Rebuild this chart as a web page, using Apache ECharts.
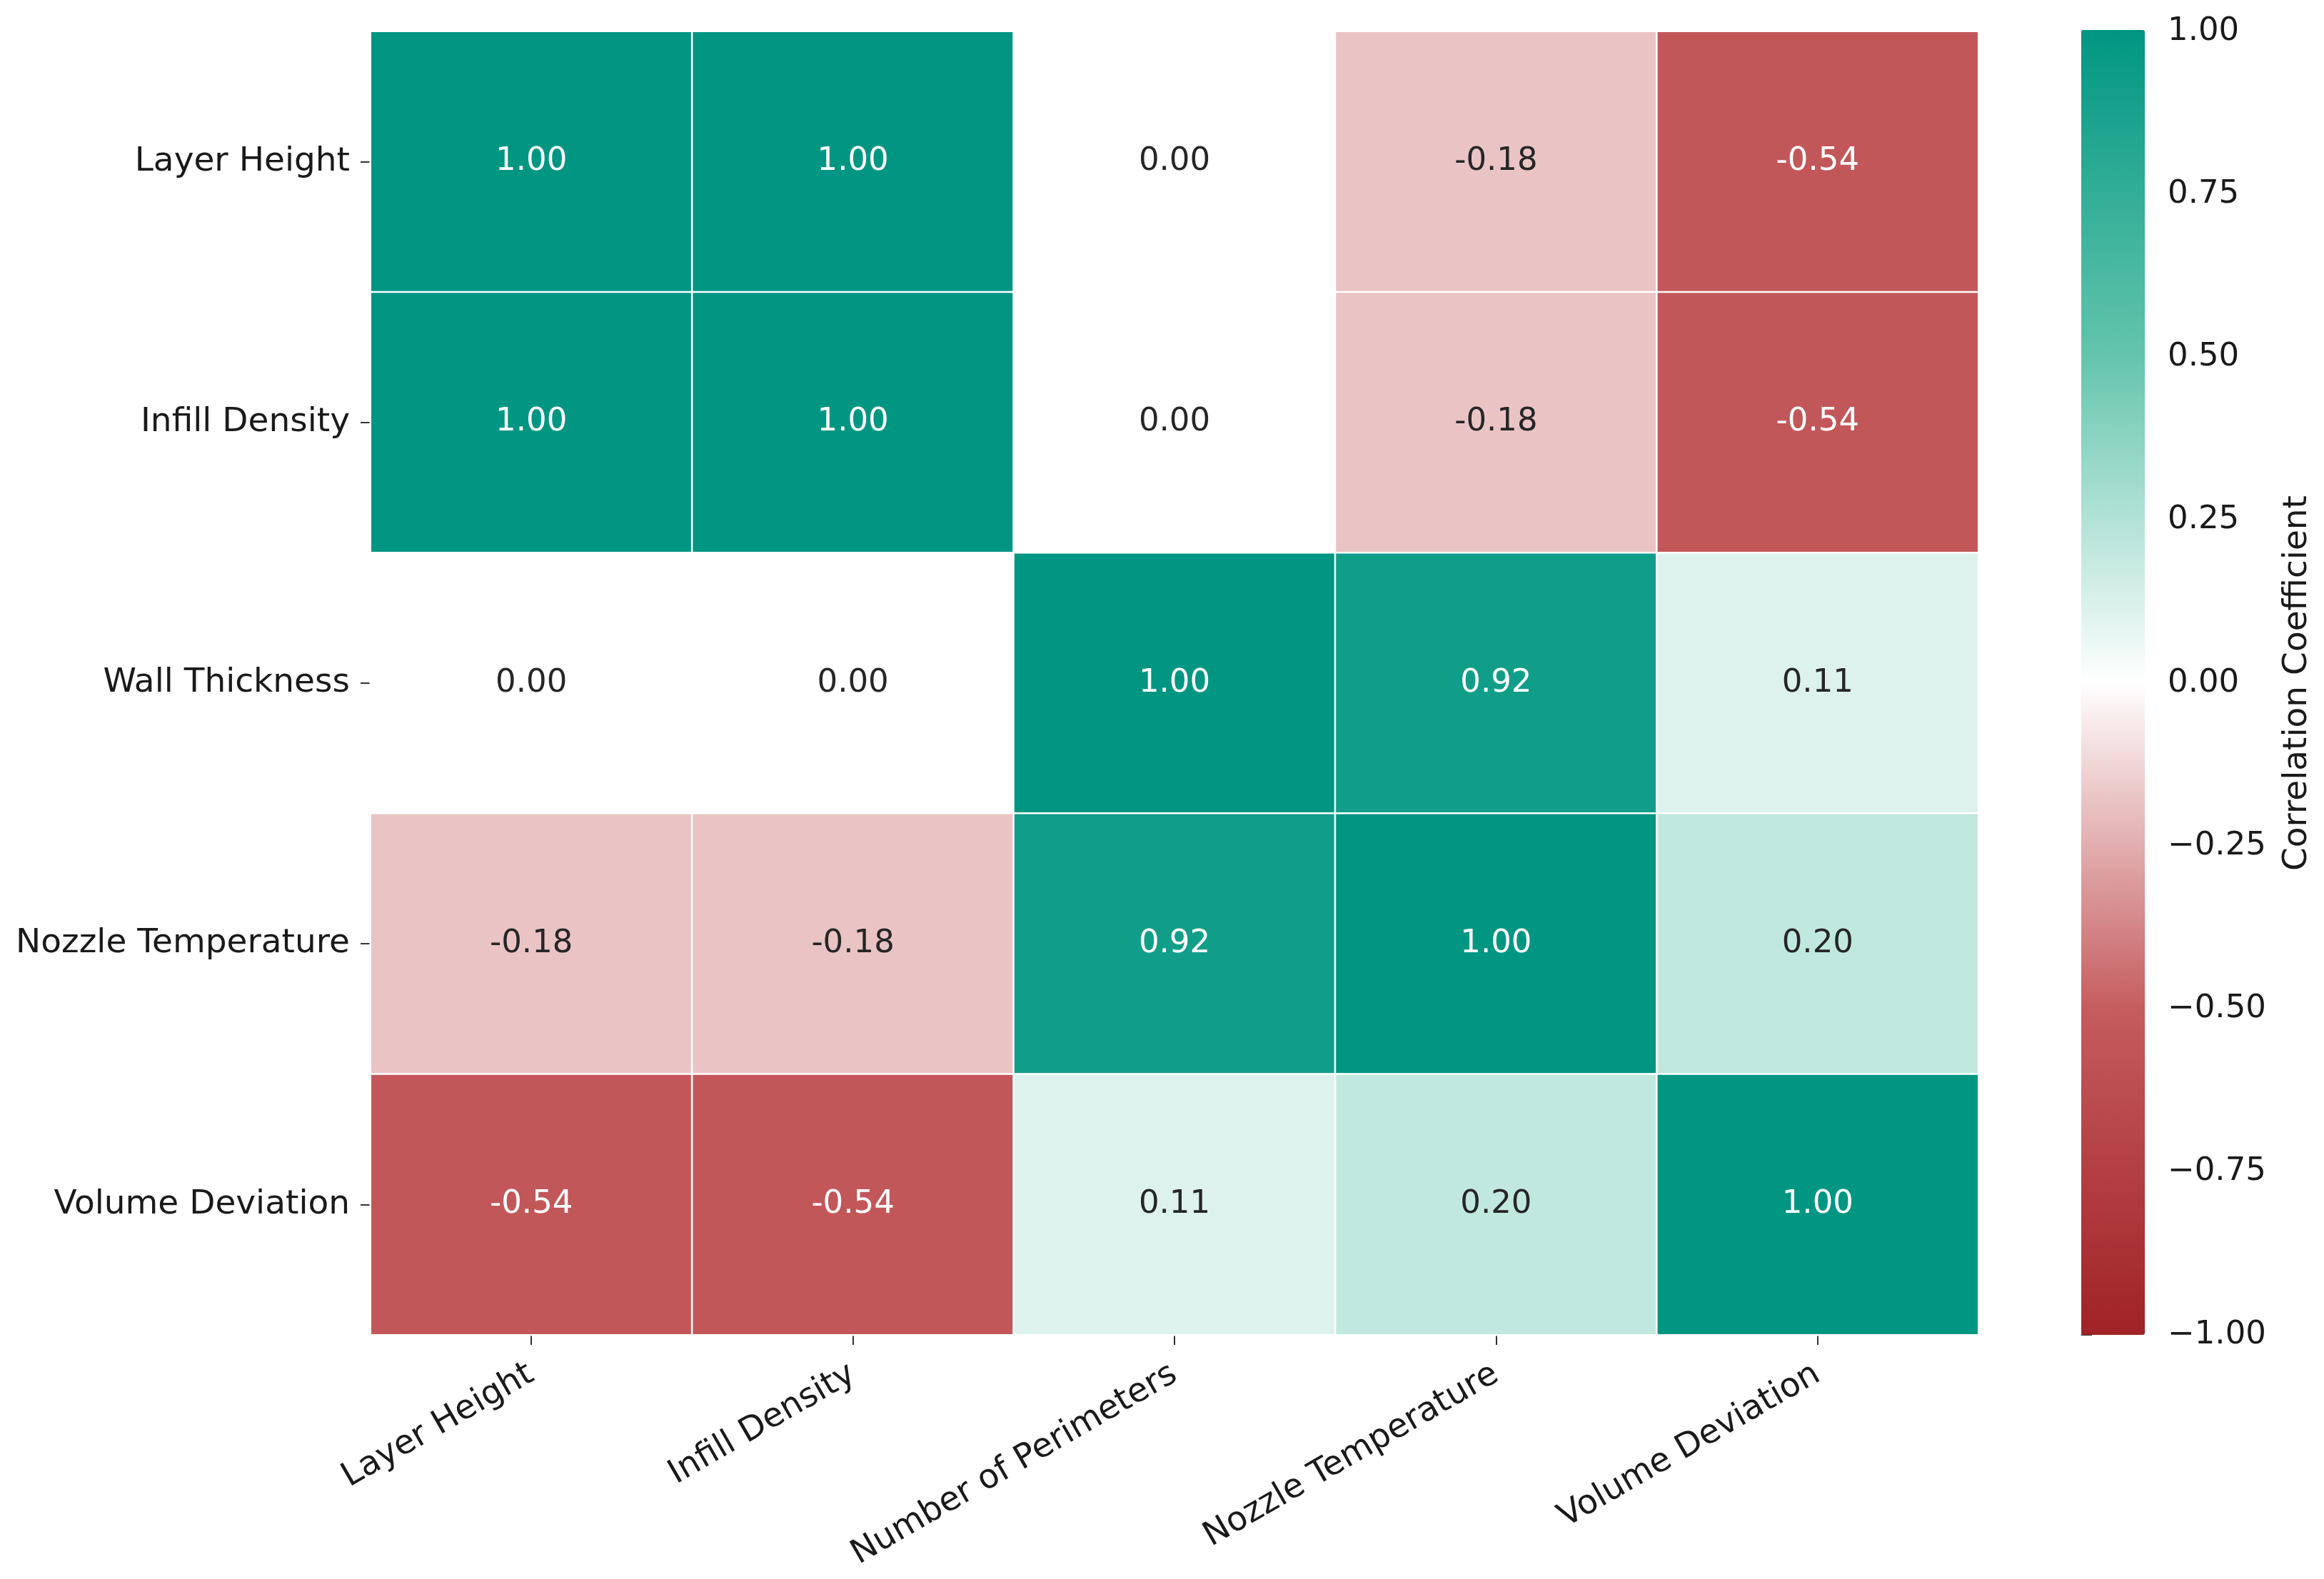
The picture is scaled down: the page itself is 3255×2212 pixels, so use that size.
<!DOCTYPE html>
<html>
<head>
<meta charset="utf-8">
<script src="https://cdn.jsdelivr.net/npm/echarts@6/dist/echarts.min.js"></script>
<style>
  html, body { margin: 0; padding: 0; background: #ffffff; }
  #chart { width: 3255px; height: 2212px; }
</style>
</head>
<body>
<div id="chart"></div>
<script>
// ---- Data ----
const colLabels = ['Layer Height', 'Infill Density', 'Number of Perimeters', 'Nozzle Temperature', 'Volume Deviation'];
const rowLabels = ['Layer Height', 'Infill Density', 'Wall Thickness', 'Nozzle Temperature', 'Volume Deviation'];
const rowLayerHeight       = [1.00, 1.00, 0.00, -0.18, -0.54];
const rowInfillDensity     = [1.00, 1.00, 0.00, -0.18, -0.54];
const rowWallThickness     = [0.00, 0.00, 1.00, 0.92, 0.11];
const rowNozzleTemperature = [-0.18, -0.18, 0.92, 1.00, 0.20];
const rowVolumeDeviation   = [-0.54, -0.54, 0.11, 0.20, 1.00];
const colorbarTicks = [-1.00, -0.75, -0.50, -0.25, 0.00, 0.25, 0.50, 0.75, 1.00];
const colorbarTitle = 'Correlation Coefficient';

const matrix = [rowLayerHeight, rowInfillDensity, rowWallThickness, rowNozzleTemperature, rowVolumeDeviation];
const heatData = [];
matrix.forEach(function (row, r) {
  row.forEach(function (v, c) {
    heatData.push({
      value: [c, r, v],
      label: { color: Math.abs(v) > 0.4 ? '#ffffff' : '#262626' }
    });
  });
});

const FONT = 'DejaVu Sans';
const chart = echarts.init(document.getElementById('chart'), null, { renderer: 'canvas' });

const gridL = 519, gridT = 44, gridW = 2252, gridH = 1826;
const cbL = 2915, cbW = 89;

chart.setOption({
  backgroundColor: '#ffffff',
  animation: false,
  textStyle: { fontFamily: FONT },
  grid: [
    { left: gridL, top: gridT, width: gridW, height: gridH, containLabel: false },
    { left: cbL, top: gridT, width: cbW, height: gridH, containLabel: false }
  ],
  xAxis: [
    {
      gridIndex: 0, type: 'category', data: colLabels, position: 'bottom',
      axisLine: { show: false },
      axisTick: { show: true, alignWithLabel: true, length: 14, lineStyle: { color: '#333', width: 2 } },
      axisLabel: { rotate: 30, margin: 52, fontSize: 47, fontFamily: FONT, color: '#1a1a1a', interval: 0 },
      splitLine: { show: false }
    },
    { gridIndex: 1, type: 'value', min: 0, max: 1, show: false }
  ],
  yAxis: [
    {
      gridIndex: 0, type: 'category', data: rowLabels, inverse: true,
      axisLine: { show: false },
      axisTick: { show: true, alignWithLabel: true, length: 14, lineStyle: { color: '#333', width: 2 } },
      axisLabel: { margin: 29, fontSize: 47, fontFamily: FONT, color: '#1a1a1a', interval: 0 },
      splitLine: { show: false }
    },
    {
      gridIndex: 1, type: 'value', min: -1, max: 1, interval: 0.25, position: 'right',
      axisLine: { show: false },
      axisTick: { show: true, length: 15, lineStyle: { color: '#333', width: 2 } },
      axisLabel: {
        margin: 32, fontSize: 45, fontFamily: FONT, color: '#1a1a1a',
        formatter: function (v) { return (v < 0 ? '\u2212' : '') + Math.abs(v).toFixed(2); }
      },
      splitLine: { show: false },
      name: colorbarTitle, nameLocation: 'middle', nameRotate: 90, nameGap: 190,
      nameTextStyle: { fontSize: 47, fontFamily: FONT, color: '#1a1a1a' }
    }
  ],
  visualMap: {
    type: 'continuous', min: -1, max: 1, seriesIndex: 0,
    orient: 'vertical', left: cbL, top: 42, itemWidth: cbW, itemHeight: 1828,
    padding: 0, calculable: false, hoverLink: false, text: null,
    inRange: { color: ['#a02226', '#c55c5e', '#ffffff', '#64c5ac', '#009682'] },
    textStyle: { color: 'transparent' }
  },
  series: [
    {
      type: 'heatmap', xAxisIndex: 0, yAxisIndex: 0,
      data: heatData,
      label: {
        show: true, fontSize: 45, fontFamily: FONT,
        formatter: function (p) { return p.value[2].toFixed(2); }
      },
      itemStyle: { borderColor: '#ffffff', borderWidth: 2.5 },
      emphasis: { disabled: true }
    }
  ]
});
</script>
</body>
</html>
